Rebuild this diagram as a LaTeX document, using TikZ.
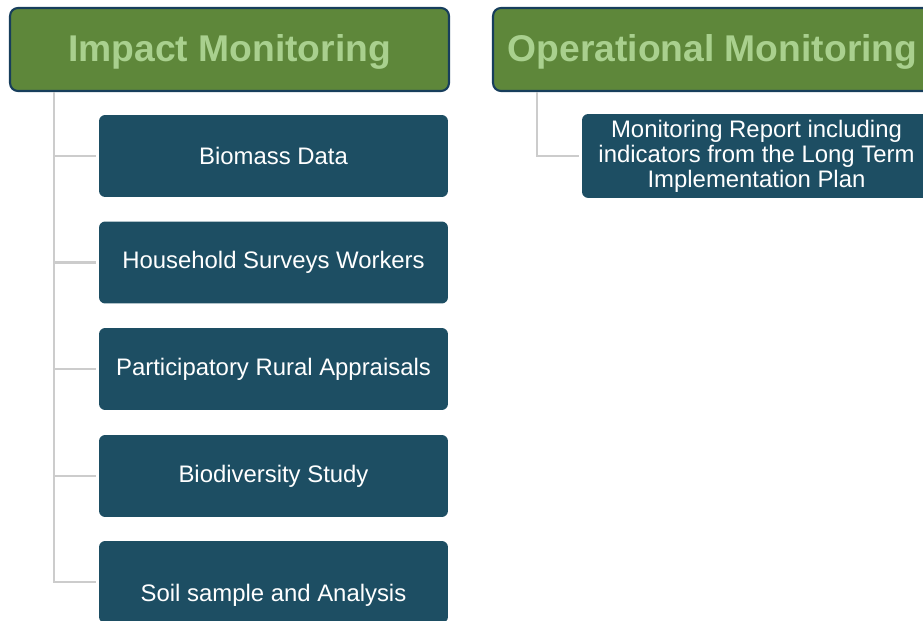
\documentclass[tikz,border=0pt]{standalone}
\usepackage{fontspec}
\setmainfont{Liberation Sans}
\definecolor{headgreen}{HTML}{5E873A}
\definecolor{headtext}{HTML}{A9D08E}
\definecolor{headborder}{HTML}{173E5C}
\definecolor{itemblue}{HTML}{1D4E63}
\definecolor{linegray}{HTML}{CCCCCC}

\begin{document}
\begin{tikzpicture}[x=0.02cm,y=-0.02cm]
    \tikzstyle{head}=[draw=headborder, line width=1.2pt, fill=headgreen, rounded corners=4.5pt, minimum width=8.78cm, minimum height=1.66cm, text=headtext, text height=18.6pt, text depth=4.4pt, font=\fontsize{21.2}{25}\selectfont\bfseries];
    \tikzstyle{item}=[fill=itemblue, rounded corners=3.5pt, minimum width=6.98cm, minimum height=1.64cm, text=white, font=\fontsize{13.6}{14.2}\selectfont, align=center];
    \tikzstyle{link}=[draw=linegray, line width=1.2pt, shorten >=0.06cm];
    \useasboundingbox (0,0) rectangle (923,621);
    \node[head] (impact) at (229.5,49.5) {Impact Monitoring};
    \node[head] (oper) at (712.5,49.5) {Operational Monitoring};
    \node[item] (biomass) at (273.5,156) {Biomass Data};
    \node[item] (survey) at (273.5,262.5) {Household Surveys Workers};
    \node[item] (rural) at (273.5,369) {Participatory Rural Appraisals};
    \node[item] (biodiv) at (273.5,476) {Biodiversity Study};
    \node[item, label={[name=soiltext, text=white, font=\fontsize{13.6}{14.2}\selectfont, yshift=-0.26cm]center:Soil sample and Analysis}] (soil) at (273.5,582) {};
    \node[item] (report) at (756.5,156) {Monitoring Report including\\indicators from the Long Term\\Implementation Plan};
    \draw[link] ([xshift=0.9cm]impact.south west) |- (biomass.west);
    \draw[link] ([xshift=0.9cm]impact.south west) |- (survey.west);
    \draw[link] ([xshift=0.9cm]impact.south west) |- (rural.west);
    \draw[link] ([xshift=0.9cm]impact.south west) |- (biodiv.west);
    \draw[link] ([xshift=0.9cm]impact.south west) |- (soil.west);
    \draw[link] ([xshift=0.9cm]oper.south west) |- (report.west);
\end{tikzpicture}
\end{document}
